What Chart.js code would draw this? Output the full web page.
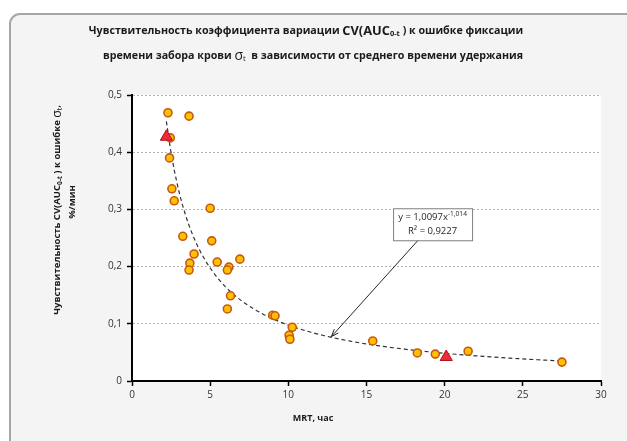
<!DOCTYPE html>
<html lang="ru">
<head>
<meta charset="UTF-8">
<title>CV(AUC) vs MRT</title>
<script src="https://cdn.jsdelivr.net/npm/chart.js@4.4.0/dist/chart.umd.min.js"></script>
<style>
  html, body { margin: 0; padding: 0; background: #fff; }
  #wrap { width: 627px; height: 441px; }
</style>
</head>
<body>
<div id="wrap"><canvas id="chart" width="627" height="441"></canvas></div>
<script>
// points: MRT (hours) vs sensitivity (%/min)
const mrt  = [2.3, 3.65, 2.45, 2.4, 2.55, 2.7, 5.0, 3.25, 5.1, 3.97, 3.7, 3.65, 5.45, 6.2, 6.1, 6.9, 6.3, 6.1, 9.0, 9.15, 10.25, 10.05, 10.1, 15.4, 18.25, 19.4, 21.5, 27.5]
const sens = [0.469, 0.463, 0.425, 0.39, 0.336, 0.315, 0.302, 0.253, 0.245, 0.222, 0.206, 0.194, 0.208, 0.199, 0.194, 0.213, 0.149, 0.126, 0.115, 0.114, 0.094, 0.080, 0.073, 0.070, 0.049, 0.047, 0.052, 0.033]

// the two red triangles
const refMrt  = [2.2, 20.1]
const refSens = [0.427, 0.042]

// power trendline as printed on the chart: y = 1,0097 x^-1,014
const trendA = 1.0097
const trendB = -1.014
const trendFrom = 2.2
const trendTo = 27.5

const xTicks = [0, 5, 10, 15, 20, 25, 30]
const yTicks = [0, 0.1, 0.2, 0.3, 0.4, 0.5]

const pts = mrt.map((x, i) => ({x: x, y: sens[i]}))
const refPts = refMrt.map((x, i) => ({x: x, y: refSens[i]}))
let trendPts = []
for (let x = trendFrom; x <= trendTo + 0.001; x += 0.25) {
    trendPts.push({x: x, y: trendA * Math.pow(x, trendB)})
}

const FONT = '"Open Sans", "DejaVu Sans", sans-serif'

// draw a run of text pieces, some of them subscript / superscript
function setFont(ctx, p, size, weight) {
    const s = p.sub || p.sup ? size * 0.7 : size * (p.scale || 1)
    ctx.font = (p.weight || weight) + ' ' + s + 'px ' + FONT
}
function drawRun(ctx, pieces, cx, cy, size, weight) {
    let total = 0
    pieces.forEach(p => { setFont(ctx, p, size, weight); total += ctx.measureText(p.t).width })
    let x = cx - total / 2
    ctx.textBaseline = 'middle'
    ctx.textAlign = 'left'
    pieces.forEach(p => {
        setFont(ctx, p, size, weight)
        const w = ctx.measureText(p.t).width
        let dy = 0
        if (p.sub) dy = size * 0.3
        if (p.sup) dy = -size * 0.35
        ctx.fillText(p.t, x, cy + dy)
        x += w
    })
}

const decor = {
    id: 'decor',
    beforeDraw(chart) {
        const ctx = chart.ctx
        const a = chart.chartArea
        ctx.save()
        ctx.fillStyle = '#fff'
        ctx.fillRect(0, 0, chart.width, chart.height)
        // outer frame
        ctx.beginPath()
        ctx.roundRect(10, 14, 700, 500, 10)
        ctx.fillStyle = '#f4f4f4'
        ctx.fill()
        ctx.lineWidth = 2
        ctx.strokeStyle = '#a6a6a6'
        ctx.stroke()
        // plot area
        ctx.fillStyle = '#fff'
        ctx.fillRect(a.left, a.top, a.right - a.left, a.bottom - a.top)
        ctx.restore()
    },
    afterDatasetsDraw(chart) {
        const ctx = chart.ctx
        const xs = chart.scales.x, ys = chart.scales.y
        ctx.save()
        // equation box and arrow
        const bx = xs.getPixelForValue(16.7), by = ys.getPixelForValue(0.302)
        const bw = 79, bh = 32
        const sx = xs.getPixelForValue(18.3), sy = by + bh
        const tx = xs.getPixelForValue(12.75), ty = ys.getPixelForValue(0.0775)
        ctx.strokeStyle = '#262626'
        ctx.lineWidth = 1
        ctx.beginPath()
        ctx.moveTo(sx, sy)
        ctx.lineTo(tx, ty)
        ctx.stroke()
        const ang = Math.atan2(ty - sy, tx - sx)
        ctx.beginPath()
        ctx.moveTo(tx, ty)
        ctx.lineTo(tx - 8 * Math.cos(ang - 0.35), ty - 8 * Math.sin(ang - 0.35))
        ctx.moveTo(tx, ty)
        ctx.lineTo(tx - 8 * Math.cos(ang + 0.35), ty - 8 * Math.sin(ang + 0.35))
        ctx.stroke()
        ctx.fillStyle = '#fff'
        ctx.fillRect(bx, by, bw, bh)
        ctx.strokeStyle = '#7f7f7f'
        ctx.strokeRect(bx + 0.5, by + 0.5, bw, bh)
        ctx.fillStyle = '#262626'
        drawRun(ctx, [{t: 'y = 1,0097x'}, {t: '-1,014', sup: true}], bx + bw / 2, by + 9, 9.5, 'normal')
        drawRun(ctx, [{t: 'R² = 0,9227'}], bx + bw / 2, by + 23, 9.5, 'normal')
        ctx.restore()
    },
    afterDraw(chart) {
        const ctx = chart.ctx
        ctx.save()
        ctx.fillStyle = '#1a1a1a'
        drawRun(ctx, [
            {t: 'Чувствительность коэффициента вариации '},
            {t: 'CV(AUC', scale: 1.2},
            {t: '0-t', sub: true},
            {t: ' ) к ошибке фиксации'}
        ], 306, 31, 10.7, 'bold')
        drawRun(ctx, [
            {t: 'времени забора крови '},
            {t: 'σ', scale: 1.3, weight: 'normal'},
            {t: 't', sub: true, weight: 'normal'},
            {t: '  в зависимости от среднего времени удержания'}
        ], 313, 56, 10.7, 'bold')
        drawRun(ctx, [{t: 'MRT, час'}], 313, 418, 9, 'bold')
        // y axis title
        ctx.translate(57, 210)
        ctx.rotate(-Math.PI / 2)
        drawRun(ctx, [
            {t: 'Чувствительность CV(AUC'},
            {t: '0-t', sub: true},
            {t: ' ) к ошибке '},
            {t: 'σ', scale: 1.3, weight: 'normal'},
            {t: 't', sub: true, weight: 'normal'},
            {t: ','}
        ], 0, 0, 9.5, 'bold')
        drawRun(ctx, [{t: '%/мин'}], 8, 15, 9.5, 'bold')
        ctx.restore()
    }
}

new Chart(document.getElementById('chart'), {
    type: 'scatter',
    data: {
        datasets: [
            {
                label: 'trend',
                type: 'line',
                data: trendPts,
                borderColor: '#333',
                borderWidth: 1.2,
                borderDash: [4, 3],
                pointRadius: 0,
                fill: false,
                tension: 0,
                order: 3
            },
            {
                label: 'points',
                data: pts,
                pointRadius: 4,
                pointBackgroundColor: '#FFC000',
                pointBorderColor: '#C65911',
                pointBorderWidth: 1.6,
                order: 2
            },
            {
                label: 'ref',
                data: refPts,
                pointStyle: 'triangle',
                pointRadius: 7,
                pointBackgroundColor: '#EE2B38',
                pointBorderColor: '#B0101C',
                pointBorderWidth: 1,
                order: 1
            }
        ]
    },
    options: {
        responsive: false,
        animation: false,
        layout: { padding: { left: 0, top: 95, right: 26, bottom: 0 } },
        plugins: {
            legend: { display: false },
            title: { display: false },
            tooltip: { enabled: false }
        },
        scales: {
            x: {
                type: 'linear',
                min: 0,
                max: 30,
                afterBuildTicks: s => { s.ticks = xTicks.map(v => ({value: v})) },
                afterFit: s => { s.height = 60 },
                grid: { drawOnChartArea: false, tickLength: 5, tickColor: '#000', tickWidth: 1.5 },
                border: { color: '#000', width: 2 },
                ticks: { color: '#333', font: { family: FONT, size: 10 }, padding: 3 }
            },
            y: {
                type: 'linear',
                min: 0,
                max: 0.5,
                afterBuildTicks: s => { s.ticks = yTicks.map(v => ({value: v})) },
                afterFit: s => { s.width = 132 },
                grid: {
                    color: c => c.tick && c.tick.value === 0 ? 'rgba(0,0,0,0)' : '#b3b3b3',
                    lineWidth: 1,
                    tickLength: 5,
                    tickColor: '#000',
                    tickWidth: 1.5
                },
                border: { color: '#000', width: 2, dash: [2, 2] },
                ticks: {
                    color: '#333',
                    font: { family: FONT, size: 10 },
                    padding: 5,
                    callback: v => String(Math.round(v * 10) / 10).replace('.', ',')
                }
            }
        }
    },
    plugins: [decor]
})
</script>
</body>
</html>
